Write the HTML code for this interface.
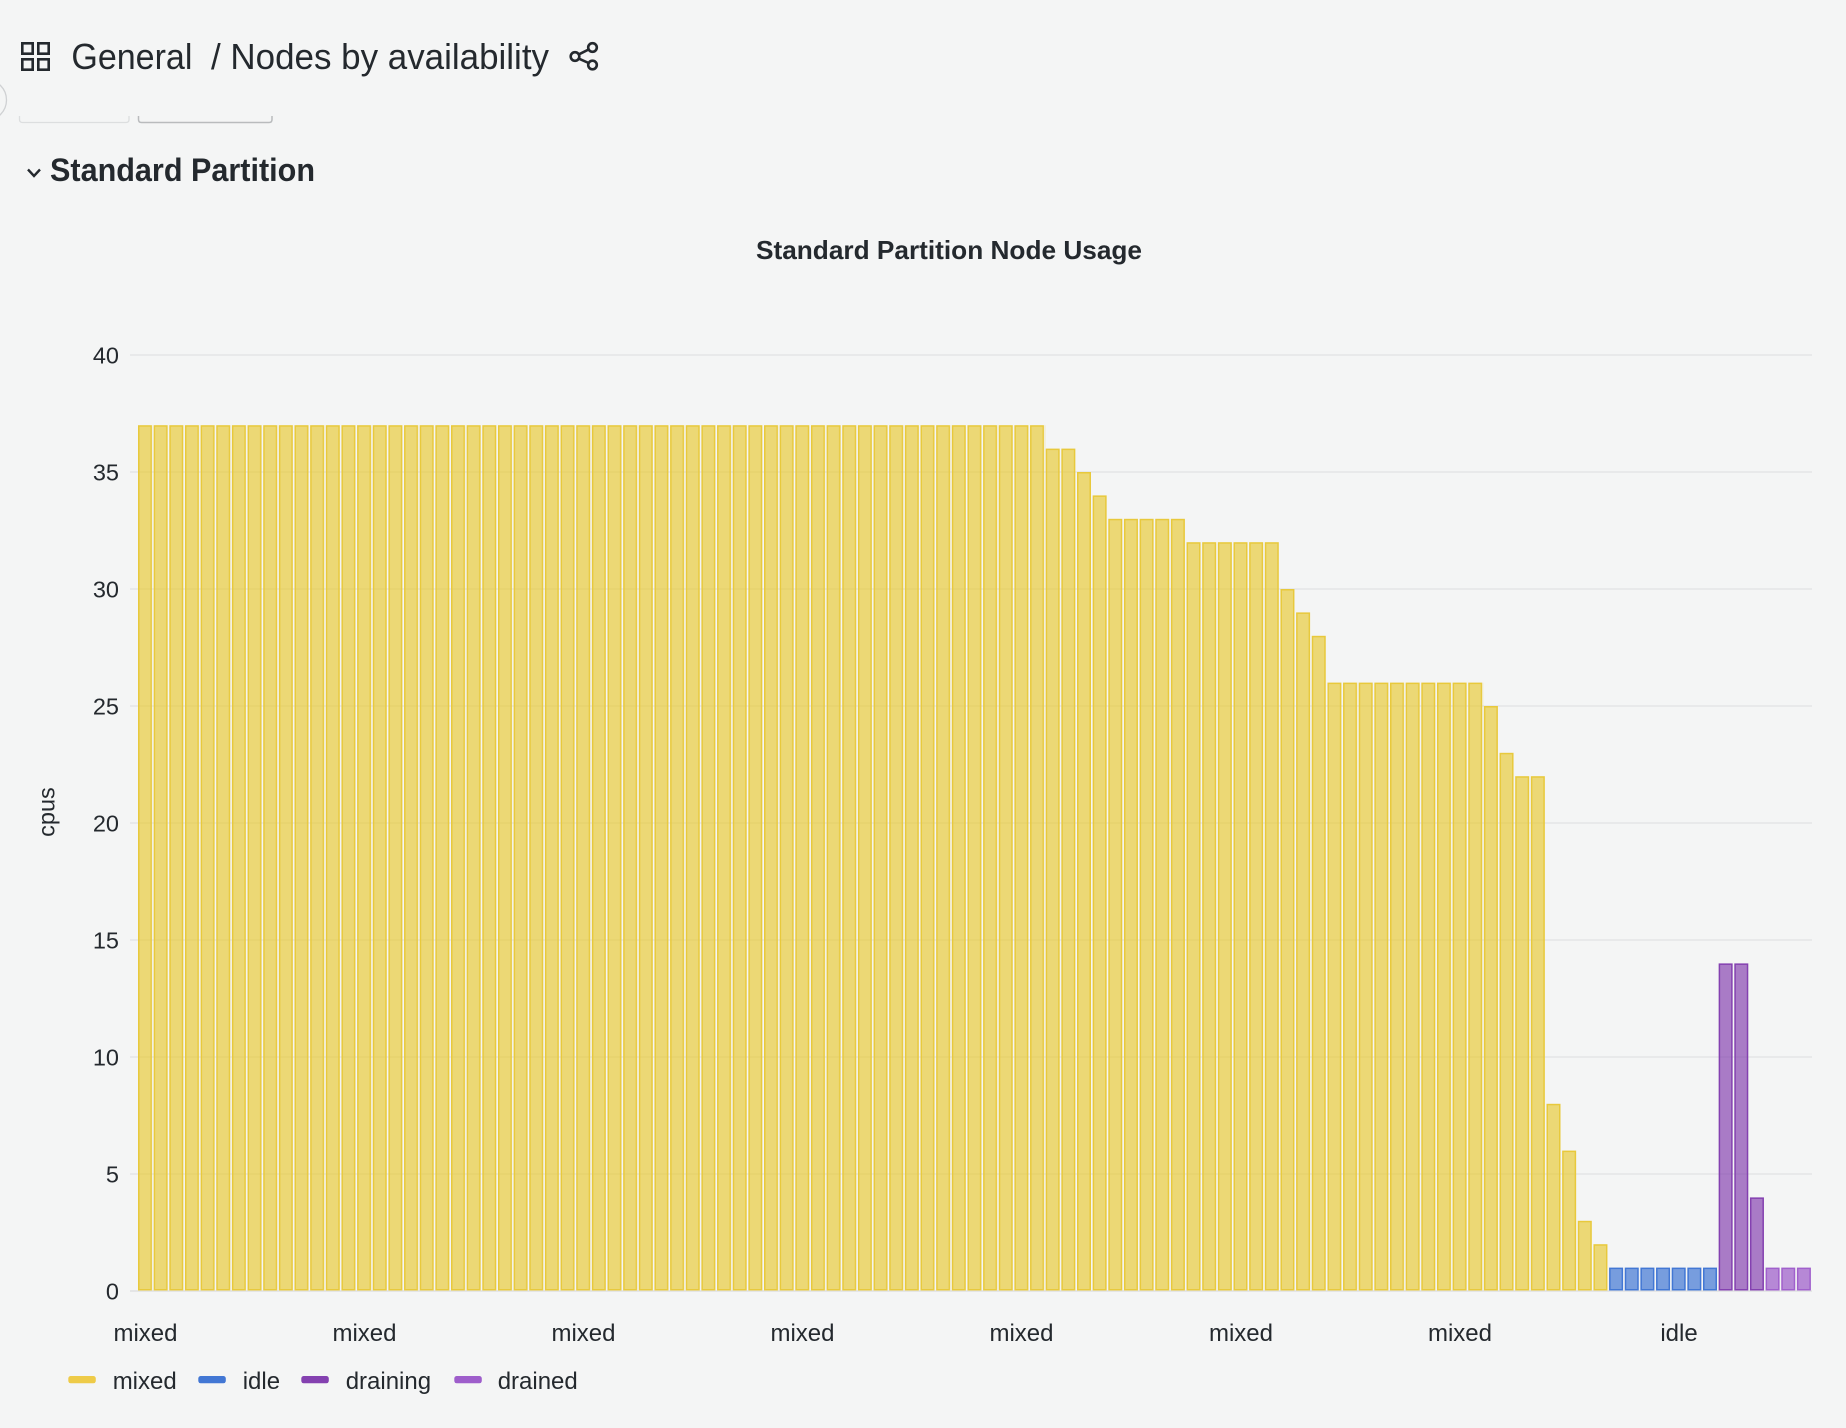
<!DOCTYPE html>
<html><head><meta charset="utf-8"><style>
html,body{margin:0;padding:0;background:#f4f5f5;}
svg{display:block;}
text{font-family:"Liberation Sans",sans-serif;fill:#24292e;}
</style></head><body>
<svg width="1846" height="1428" viewBox="0 0 1846 1428" xmlns="http://www.w3.org/2000/svg">
<defs>
<pattern id="p37" patternUnits="userSpaceOnUse" x="138" y="0" width="15.65" height="1428">
<rect x="0.75" y="425.95" width="12.5" height="863.8" fill="rgba(232,200,48,0.65)" stroke="#e8c93c" stroke-width="1.5"/>
</pattern>
<pattern id="p26" patternUnits="userSpaceOnUse" x="1327.4" y="0" width="15.65" height="1428">
<rect x="0.75" y="683.35" width="12.5" height="606.4" fill="rgba(232,200,48,0.65)" stroke="#e8c93c" stroke-width="1.5"/>
</pattern>
</defs>
<rect width="1846" height="1428" fill="#f4f5f5"/>
<g fill="none" stroke="#24292e" stroke-width="2.6">
<rect x="22.3" y="43.3" width="10.4" height="10.4"/>
<rect x="38.3" y="43.3" width="10.4" height="10.4"/>
<rect x="22.3" y="59.3" width="10.4" height="10.4"/>
<rect x="38.3" y="59.3" width="10.4" height="10.4"/>
</g>
<text x="71.4" y="69" font-size="36" textLength="121" lengthAdjust="spacingAndGlyphs">General</text>
<text x="211" y="69" font-size="36" textLength="338" lengthAdjust="spacingAndGlyphs">/ Nodes by availability</text>
<g fill="none" stroke="#24292e" stroke-width="2.6">
<circle cx="592.5" cy="47.5" r="4.3"/>
<circle cx="575" cy="56.5" r="4.3"/>
<circle cx="592.5" cy="65" r="4.3"/>
<line x1="579" y1="54.3" x2="588.6" y2="49.5"/>
<line x1="579" y1="58.7" x2="588.6" y2="63"/>
</g>
<circle cx="-14" cy="100" r="20.5" fill="none" stroke="#cfd1d3" stroke-width="1.3"/>
<path d="M19.5,116 v3.5 q0,3 3,3 h103.5 q3,0 3,-3 v-3.5" fill="none" stroke="#dcdedf" stroke-width="1.3"/>
<path d="M138.5,116 v3.5 q0,3 3,3 h127.5 q3,0 3,-3 v-3.5" fill="none" stroke="#b9bbbd" stroke-width="1.5"/>
<polyline points="28,169.5 34,176 40,169.5" fill="none" stroke="#24292e" stroke-width="2.4"/>
<text x="50" y="181" font-size="32" font-weight="bold" textLength="265" lengthAdjust="spacingAndGlyphs">Standard Partition</text>
<text x="756" y="259" font-size="26" font-weight="bold" textLength="386" lengthAdjust="spacingAndGlyphs">Standard Partition Node Usage</text>
<g stroke="#e4e5e6" stroke-width="1.4">
<line x1="130" y1="355" x2="1812" y2="355"/>
<line x1="130" y1="472" x2="1812" y2="472"/>
<line x1="130" y1="589" x2="1812" y2="589"/>
<line x1="130" y1="706" x2="1812" y2="706"/>
<line x1="130" y1="823" x2="1812" y2="823"/>
<line x1="130" y1="940" x2="1812" y2="940"/>
<line x1="130" y1="1057" x2="1812" y2="1057"/>
<line x1="130" y1="1174" x2="1812" y2="1174"/>
<line x1="130" y1="1291" x2="1812" y2="1291" stroke-width="2"/>
</g>
<g font-size="23.5" text-anchor="end">
<text x="119" y="363.5">40</text>
<text x="119" y="480.5">35</text>
<text x="119" y="597.5">30</text>
<text x="119" y="714.5">25</text>
<text x="119" y="831.5">20</text>
<text x="119" y="948.5">15</text>
<text x="119" y="1065.5">10</text>
<text x="119" y="1182.5">5</text>
<text x="119" y="1299.5">0</text>
</g>
<text x="54.5" y="812" font-size="23.5" text-anchor="middle" transform="rotate(-90 54.5 812)">cpus</text>
<rect x="138" y="424" width="907.7" height="868" fill="url(#p37)"/>
<rect x="1327.4" y="682" width="156.5" height="610" fill="url(#p26)"/>
<g transform="translate(0.75,0)" fill="rgba(232,200,48,0.65)" stroke="#e8c93c" stroke-width="1.5">
<rect x="1045.7" y="449.35" width="12.5" height="840.4"/>
<rect x="1061.35" y="449.35" width="12.5" height="840.4"/>
<rect x="1077" y="472.75" width="12.5" height="817"/>
<rect x="1092.65" y="496.15" width="12.5" height="793.6"/>
<rect x="1108.3" y="519.55" width="12.5" height="770.2"/>
<rect x="1123.95" y="519.55" width="12.5" height="770.2"/>
<rect x="1139.6" y="519.55" width="12.5" height="770.2"/>
<rect x="1155.25" y="519.55" width="12.5" height="770.2"/>
<rect x="1170.9" y="519.55" width="12.5" height="770.2"/>
<rect x="1186.55" y="542.95" width="12.5" height="746.8"/>
<rect x="1202.2" y="542.95" width="12.5" height="746.8"/>
<rect x="1217.85" y="542.95" width="12.5" height="746.8"/>
<rect x="1233.5" y="542.95" width="12.5" height="746.8"/>
<rect x="1249.15" y="542.95" width="12.5" height="746.8"/>
<rect x="1264.8" y="542.95" width="12.5" height="746.8"/>
<rect x="1280.45" y="589.75" width="12.5" height="700"/>
<rect x="1296.1" y="613.15" width="12.5" height="676.6"/>
<rect x="1311.75" y="636.55" width="12.5" height="653.2"/>
<rect x="1483.9" y="706.75" width="12.5" height="583"/>
<rect x="1499.55" y="753.55" width="12.5" height="536.2"/>
<rect x="1515.2" y="776.95" width="12.5" height="512.8"/>
<rect x="1530.85" y="776.95" width="12.5" height="512.8"/>
<rect x="1546.5" y="1104.55" width="12.5" height="185.2"/>
<rect x="1562.15" y="1151.35" width="12.5" height="138.4"/>
<rect x="1577.8" y="1221.55" width="12.5" height="68.2"/>
<rect x="1593.45" y="1244.95" width="12.5" height="44.8"/>
</g>
<g transform="translate(0.75,0)" fill="rgba(66,119,212,0.7)" stroke="#4277d4" stroke-width="1.5">
<rect x="1609.1" y="1268.35" width="12.5" height="21.4"/>
<rect x="1624.75" y="1268.35" width="12.5" height="21.4"/>
<rect x="1640.4" y="1268.35" width="12.5" height="21.4"/>
<rect x="1656.05" y="1268.35" width="12.5" height="21.4"/>
<rect x="1671.7" y="1268.35" width="12.5" height="21.4"/>
<rect x="1687.35" y="1268.35" width="12.5" height="21.4"/>
<rect x="1703" y="1268.35" width="12.5" height="21.4"/>
</g>
<g transform="translate(0.75,0)" fill="rgba(132,65,176,0.68)" stroke="#8441b0" stroke-width="1.5">
<rect x="1718.65" y="964.15" width="12.5" height="325.6"/>
<rect x="1734.3" y="964.15" width="12.5" height="325.6"/>
<rect x="1749.95" y="1198.15" width="12.5" height="91.6"/>
</g>
<g transform="translate(0.75,0)" fill="rgba(158,94,203,0.72)" stroke="#a060cc" stroke-width="1.5">
<rect x="1765.6" y="1268.35" width="12.5" height="21.4"/>
<rect x="1781.25" y="1268.35" width="12.5" height="21.4"/>
<rect x="1796.9" y="1268.35" width="12.5" height="21.4"/>
</g>
<g font-size="24" text-anchor="middle">
<text x="145.5" y="1341">mixed</text>
<text x="364.5" y="1341">mixed</text>
<text x="583.5" y="1341">mixed</text>
<text x="802.5" y="1341">mixed</text>
<text x="1021.5" y="1341">mixed</text>
<text x="1241" y="1341">mixed</text>
<text x="1460" y="1341">mixed</text>
<text x="1679" y="1341">idle</text>
</g>
<rect x="68.3" y="1376" width="27.5" height="7.3" rx="2.5" fill="#eecb48"/>
<rect x="198.3" y="1376" width="27.5" height="7.3" rx="2.5" fill="#4277d4"/>
<rect x="301.3" y="1376" width="27.5" height="7.3" rx="2.5" fill="#8441b0"/>
<rect x="454.3" y="1376" width="27.5" height="7.3" rx="2.5" fill="#9e5ecb"/>
<g font-size="24">
<text x="112.7" y="1389">mixed</text>
<text x="242.7" y="1389">idle</text>
<text x="345.7" y="1389">draining</text>
<text x="497.7" y="1389">drained</text>
</g>
</svg>
</body></html>
